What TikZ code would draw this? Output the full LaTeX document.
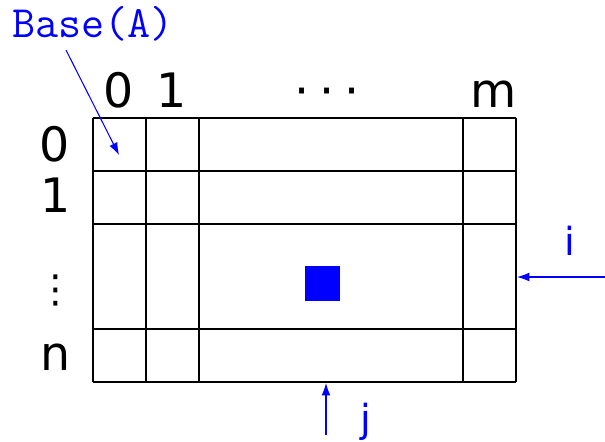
\documentclass[tikz,border=0pt]{standalone}
\usepackage{fontspec}
\usepackage{tikz}
\usetikzlibrary{arrows.meta}
\newfontfamily\idxfont{DejaVu Sans}

\begin{document}
\begin{tikzpicture}[x=0.02cm, y=-0.02cm, line join=round]
\useasboundingbox (0,0) rectangle (605,441);
\tikzset{
  idx/.style={font=\idxfont\fontsize{27}{27}\selectfont, inner sep=0pt, anchor=base},
  var/.style={font=\idxfont\fontsize{22}{22}\selectfont, inner sep=0pt, anchor=base, blue},
  ptr/.style={-{Latex[length=7pt,width=5pt]}, blue, line width=0.6pt}
}
% the array
\foreach \x in {93,146,199,463,516} \draw[line width=0.6pt] (\x,118) -- (\x,382);
\foreach \y in {118,171,224,329,382} \draw[line width=0.6pt] (93,\y) -- (516,\y);
\fill[blue] (305,266) rectangle (340,301);
% column and row indices
\node[idx] (c0) at (119,107) {0};
\node[idx] (c1) at (172,107) {1};
\node[idx] (cdots) at (327,107) {·\hspace{0.21em}·\hspace{0.21em}·};
\node[idx] (cm) at (494,107) {m};
\node[idx] (r0) at (55,161) {0};
\node[idx] (r1) at (56,212) {1};
\node[idx, font=\idxfont\fontsize{22}{22}\selectfont] (rdots) at (56,302) {⋮};
\node[idx] (rn) at (56,370) {n};
% pointers
\coordinate (baseTail) at (66,50);
\coordinate (cell) at (119,155);
\coordinate (iTail) at (605,277);
\coordinate (iHead) at (517,277);
\coordinate (jTail) at (326,435);
\coordinate (jHead) at (326,383);
\node[font=\ttfamily\fontsize{25.5}{25.5}\selectfont, blue, inner sep=0pt, anchor=base] (base) at (93,37) {Base(A)};
\node[var] (ilab) at (570,255) {i};
\node[var] (jlab) at (366,432) {j};
\draw[ptr] (baseTail) -- (cell);
\draw[ptr] (iTail) -- (iHead);
\draw[ptr] (jTail) -- (jHead);
\end{tikzpicture}
\end{document}
